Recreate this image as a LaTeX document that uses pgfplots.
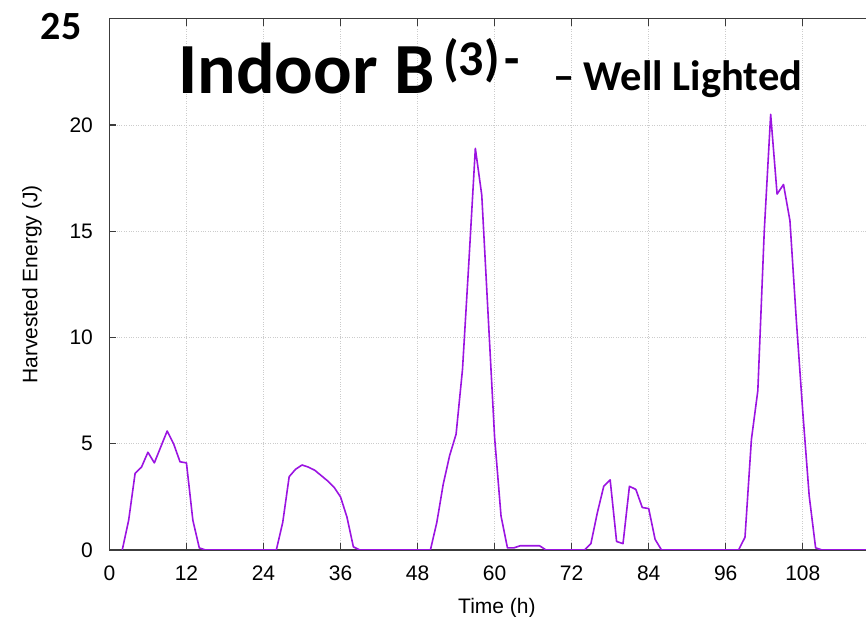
\documentclass[border=0pt]{standalone}
\usepackage{fontspec}
\setmainfont{Liberation Sans}
\newfontfamily\carlito{Carlito}
\usepackage{pgfplots}
\pgfplotsset{compat=1.18}
\definecolor{gpurple}{RGB}{155,20,225}
\definecolor{border}{RGB}{60,60,60}
\begin{document}
\begin{tikzpicture}
\begin{axis}[
  scale only axis,
  width=770.4pt, height=531.25pt,
  at={(109.4pt,67pt)}, anchor=south west,
  xmin=0, xmax=120, ymin=0, ymax=25,
  xtick={0,12,...,108}, ytick={0,5,10,15,20,25},
  yticklabels={0,5,10,15,20,{}},
  /pgf/number format/assume math mode=true,
  tick align=inside,
  major tick length=7pt,
  tick style={border, line width=1.2pt},
  axis line style={border, line width=1.2pt},
  xtick pos=both, ytick pos=both,
  grid=major,
  major grid style={dotted, gray!40, line width=0.7pt},
  ticklabel style={font=\fontsize{21}{25}\selectfont},
  xticklabel style={yshift=-12pt},
  yticklabel style={xshift=-13pt},
  xlabel={Time (h)},
  ylabel={Harvested Energy (J)},
  label style={font=\fontsize{21}{25}\selectfont},
  xlabel style={at={(axis description cs:0.503,0)}, anchor=center, yshift=-58pt},
  ylabel style={at={(axis description cs:-0.1005,0.5)}, anchor=center},
]
\addplot[gpurple, line width=1.6pt, line join=round] coordinates {
(2,0)(3,1.4)(4,3.6)(5,3.9)(6,4.6)(7,4.1)(8,4.85)(9,5.6)(10,5.0)(11,4.15)(12,4.1)(13,1.4)(14,0.1)(15,0)
(16,0)(17,0)(18,0)(19,0)(20,0)(21,0)(22,0)(23,0)(24,0)(25,0)(26,0)
(27,1.3)(28,3.45)(29,3.8)(30,4.0)(31,3.9)(32,3.75)(33,3.5)(34,3.25)(35,2.95)(36,2.5)(37,1.55)(38,0.15)(39,0)
(40,0)(41,0)(42,0)(43,0)(44,0)(45,0)(46,0)(47,0)(48,0)(49,0)(50,0)
(51,1.3)(52,3.1)(53,4.45)(54,5.45)(55,8.5)(56,13.6)(57,18.9)(58,16.7)(59,11.0)(60,5.3)(61,1.6)(62,0.1)(63,0.1)
(64,0.2)(65,0.2)(66,0.2)(67,0.2)(68,0)(69,0)(70,0)(71,0)(72,0)(73,0)(74,0)
(75,0.3)(76,1.75)(77,3.0)(78,3.3)(79,0.4)(80,0.3)(81,3.0)(82,2.85)(83,2.0)(84,1.95)(85,0.5)(86,0)
(87,0)(88,0)(89,0)(90,0)(91,0)(92,0)(93,0)(94,0)(95,0)(96,0)(97,0)(98,0)
(99,0.6)(100,5.2)(101,7.5)(102,15.0)(103,20.5)(104,16.75)(105,17.2)(106,15.5)(107,10.8)(108,6.5)(109,2.55)(110,0.1)
(111,0)(112,0)(113,0)(114,0)(115,0)(116,0)(117,0)(118,0)(119,0)(120,0)
};
\end{axis}
\node[anchor=center, font=\carlito\bfseries\fontsize{40}{44}\selectfont] at (61pt,590pt) {25};
\node[anchor=base west, inner sep=0pt, font=\carlito\bfseries\fontsize{72}{80}\selectfont] at (178pt,523pt) {Indoor B};
\node[anchor=base west, inner sep=0pt, font=\carlito\bfseries\fontsize{50}{56}\selectfont] at (443pt,541pt) {(3)\hspace{5pt}-};
\node[anchor=base west, inner sep=0pt, font=\carlito\bfseries\fontsize{42.5}{48}\selectfont] at (553pt,526pt) {– Well Lighted};
\pgfresetboundingbox
\useasboundingbox (0pt,0pt) rectangle (866pt,617pt);
\end{tikzpicture}
\end{document}
